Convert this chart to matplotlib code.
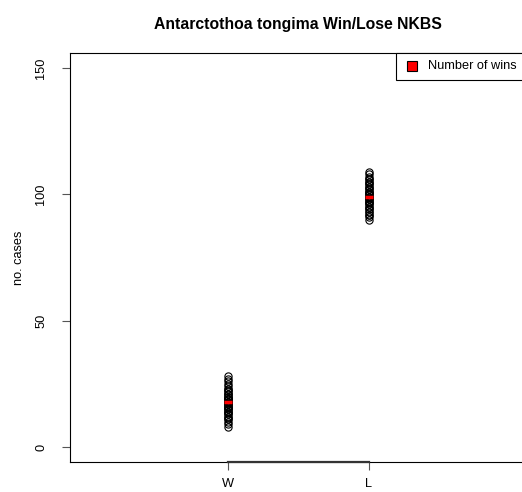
import numpy as np
import matplotlib
matplotlib.use("Agg")
import matplotlib.pyplot as plt

plt.rcParams['font.family'] = ['Liberation Sans', 'DejaVu Sans']

# simulated counts per run, wins (W) and losses (L)
groups = ['W', 'L']
wins = [8, 9, 10, 11, 11, 12, 12, 13, 13, 14, 14, 14, 15, 15, 15, 16, 16, 16,
        16, 17, 17, 17, 17, 18, 18, 18, 18, 19, 19, 19, 19, 20, 20, 20, 21, 21,
        21, 22, 22, 23, 23, 24, 25, 26, 27, 28]
losses = [90, 91, 92, 92, 93, 93, 94, 94, 95, 95, 96, 96, 97, 97, 97, 98, 98,
          98, 99, 99, 99, 99, 100, 100, 100, 101, 101, 101, 102, 102, 103, 103,
          104, 104, 105, 105, 106, 106, 107, 108, 109]
medians = [18, 99]
yticks = [0, 50, 100, 150]

fig = plt.figure(figsize=(5.22, 4.92), dpi=100)
ax = fig.add_axes([0.1341, 0.0604, 0.8747, 0.8325])

for i, vals in enumerate([wins, losses]):
    x = np.full(len(vals), i + 1)
    ax.plot(x, vals, linestyle='none', marker='o', markersize=5.2,
            markerfacecolor='none', markeredgecolor='black', markeredgewidth=0.8)
    ax.plot([i + 1 - 0.03, i + 1 + 0.03], [medians[i], medians[i]],
            color='red', lw=2.5, solid_capstyle='butt', zorder=5)

ax.set_xlim(-0.12, 3.12)
ax.set_ylim(-6, 156)
ax.set_xticks([1, 2])
ax.set_xticklabels(groups)
ax.set_yticks(yticks)
ax.set_yticklabels([str(v) for v in yticks], rotation=90, va='center')

for s in ax.spines.values():
    s.set_linewidth(0.8)
    s.set_color('black')
# axis line between the outer ticks, as R draws it
ax.plot([1, 2], [-6, -6], color='#333333', lw=1.6, clip_on=False, zorder=6)

ax.tick_params(axis='both', length=6, width=0.8, color='#555555',
               labelsize=9.2, labelcolor='black')
ax.tick_params(axis='x', pad=5.5)
ax.tick_params(axis='y', pad=10.5)

ax.set_ylabel('no. cases', fontsize=9.2, labelpad=7)
ax.set_title('Antarctothoa tongima Win/Lose NKBS', fontsize=11.3,
             fontweight='bold', pad=17)

# legend box in the top-right corner
ax.add_patch(plt.Rectangle((0.714, 0.9333), 0.4, 0.0667, transform=ax.transAxes,
                           facecolor='white', edgecolor='black', lw=0.8,
                           clip_on=False, zorder=8))
ax.plot([0.749], [0.9663], transform=ax.transAxes, marker='s', markersize=7,
        markerfacecolor='red', markeredgecolor='black', markeredgewidth=0.8,
        linestyle='none', clip_on=False, zorder=9)
ax.text(0.784, 0.9663, 'Number of wins', transform=ax.transAxes, fontsize=9.2,
        va='center', ha='left', zorder=9)

fig.savefig('out.png', dpi=100)
